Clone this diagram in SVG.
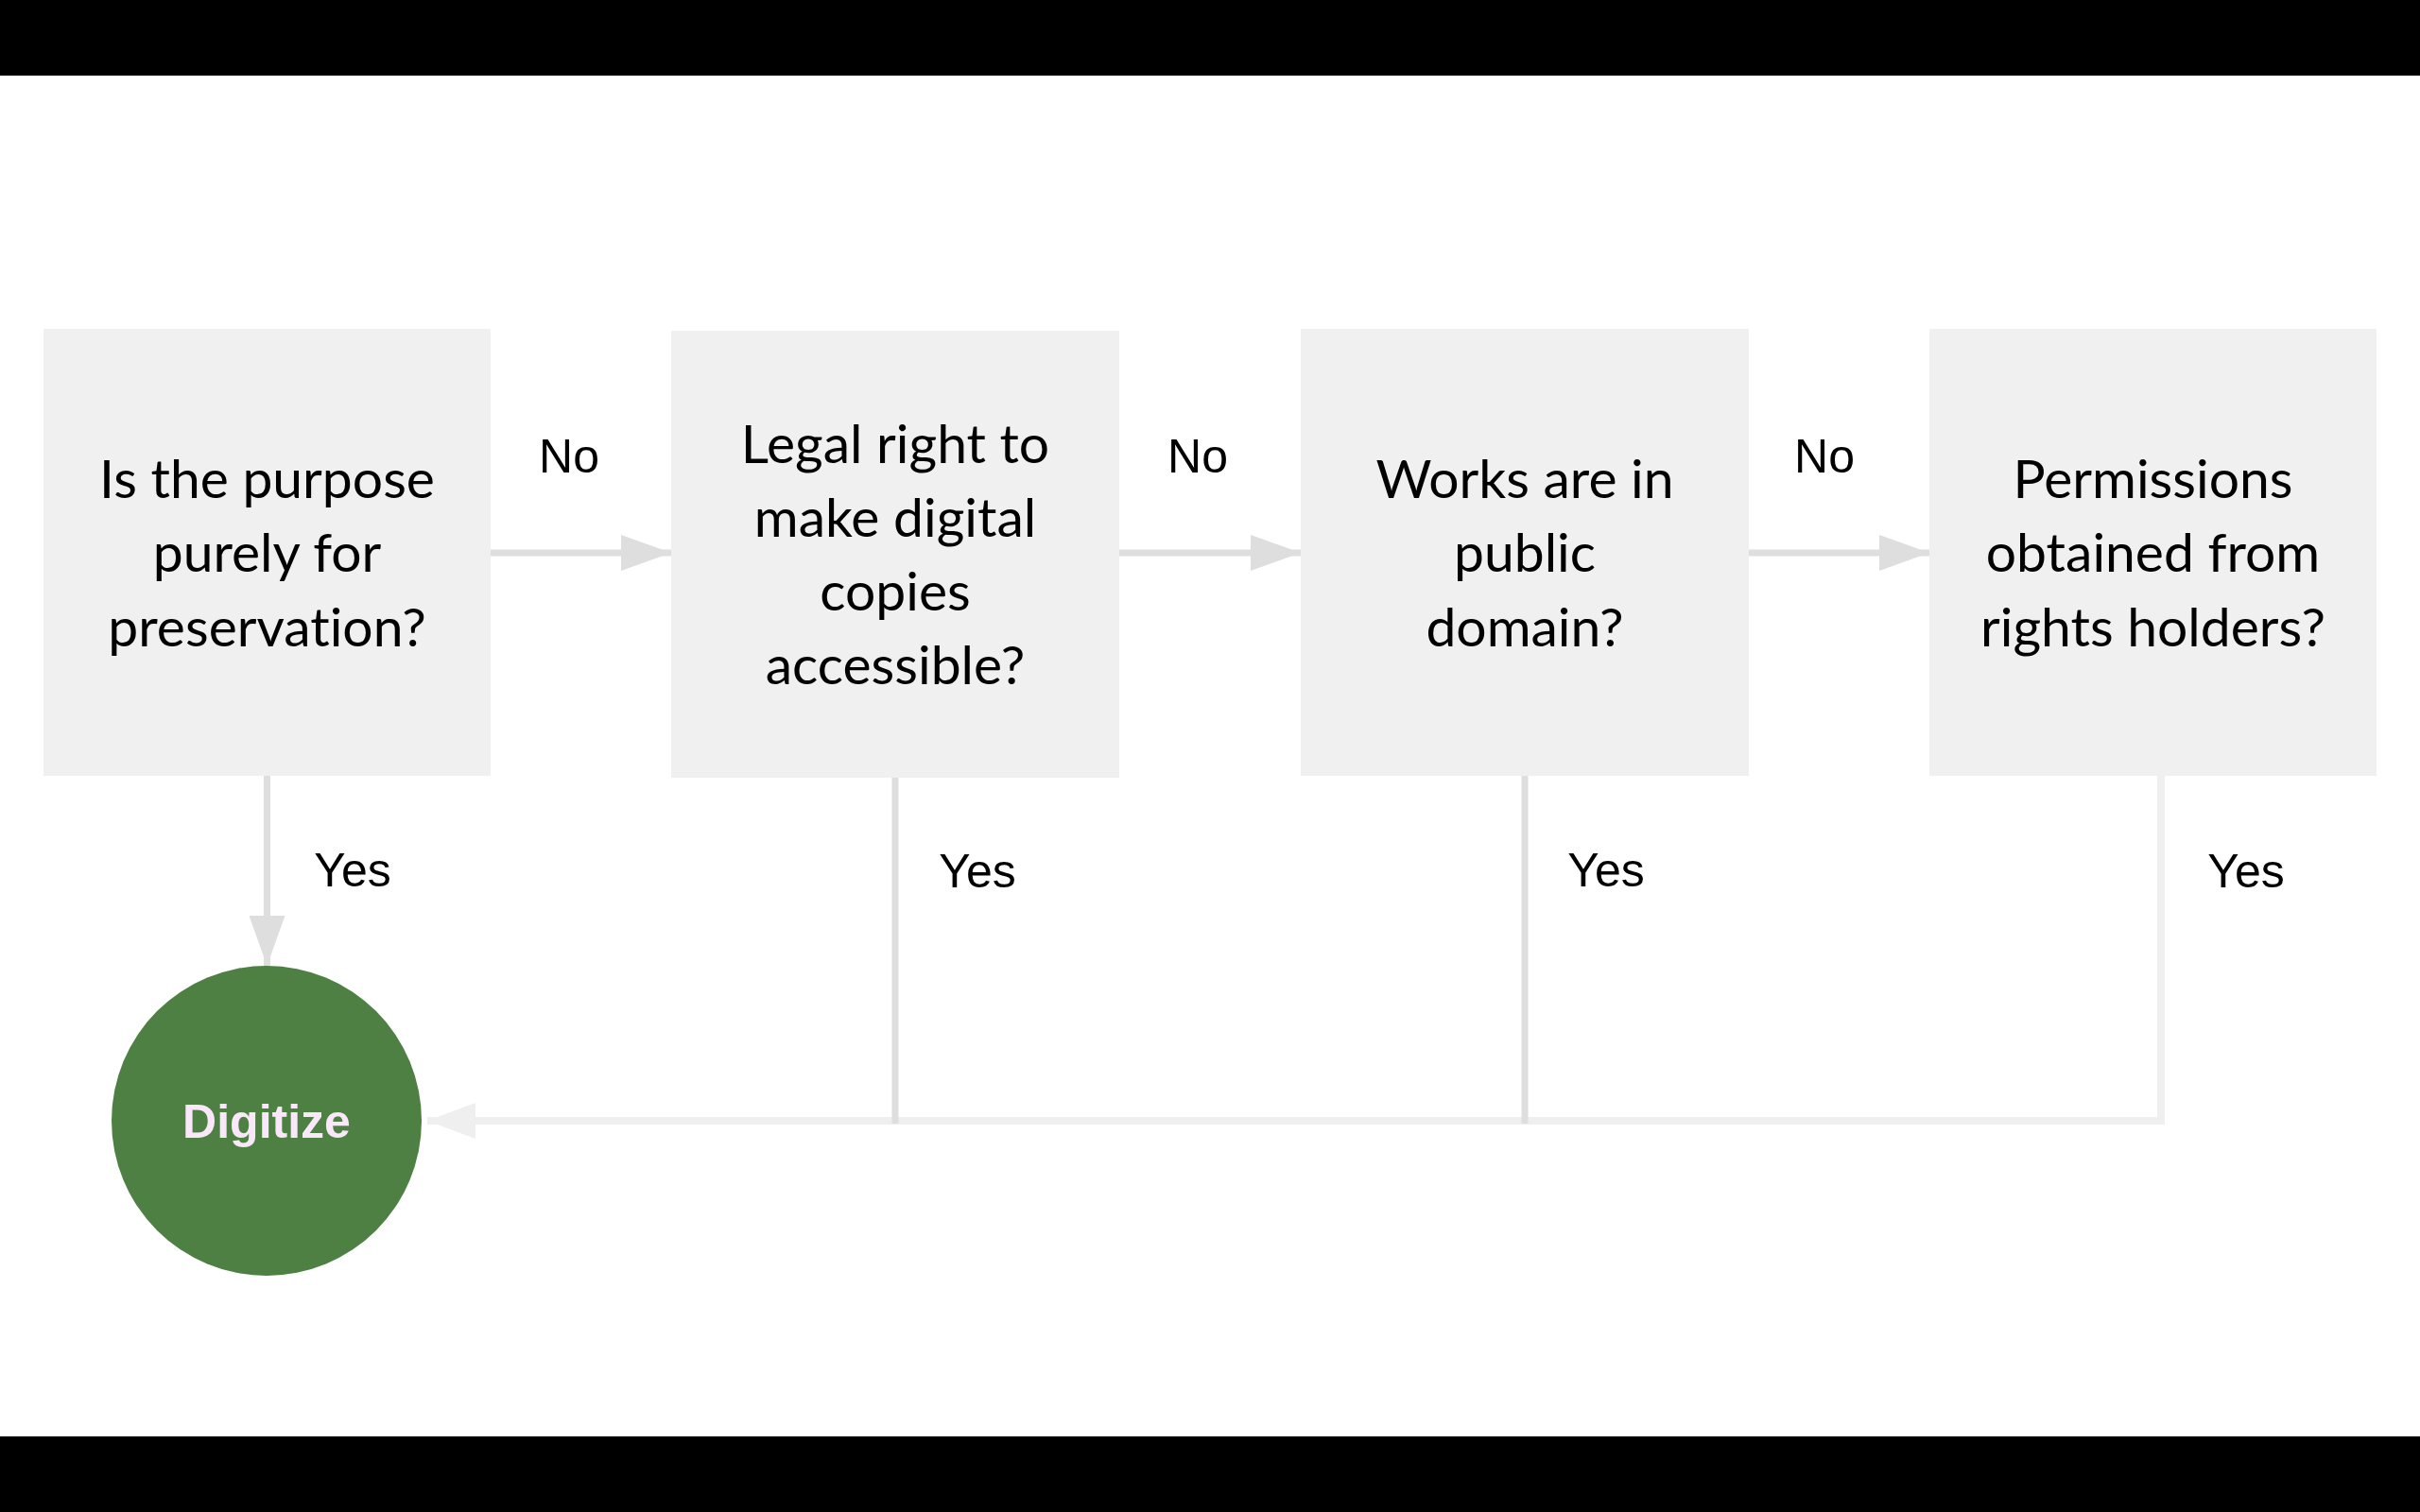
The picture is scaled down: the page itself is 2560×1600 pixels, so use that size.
<svg xmlns="http://www.w3.org/2000/svg" width="2560" height="1600" viewBox="0 0 2560 1600">
  <style>
    .box { fill: #f0f0f0; }
    .q { font-family: Lato, "Open Sans", "Liberation Sans", sans-serif; font-size: 57px; fill: #000; text-anchor: middle; font-variant-ligatures: none; font-feature-settings: "liga" 0; }
    .lbl { font-family: "Liberation Sans", Arial, sans-serif; font-size: 50px; fill: #000; text-anchor: middle; }
    .dk { stroke: #dedede; stroke-width: 7; fill: none; }
    .lt { stroke: #efefef; stroke-width: 8; fill: none; }
  </style>
  <defs>
    <marker id="ahD" markerUnits="userSpaceOnUse" markerWidth="54" markerHeight="38" refX="53" refY="19" orient="auto" viewBox="0 0 54 38">
      <path d="M0,0 L53,19 L0,38 Z" fill="#dedede"/>
    </marker>
    <marker id="ahL" markerUnits="userSpaceOnUse" markerWidth="54" markerHeight="38" refX="51" refY="19" orient="auto" viewBox="0 0 54 38">
      <path d="M0,0 L51,19 L0,38 Z" fill="#efefef"/>
    </marker>
  </defs>
  <rect x="0" y="0" width="2560" height="1600" fill="#ffffff"/>
  <rect x="0" y="0" width="2560" height="80" fill="#000000"/>
  <rect x="0" y="1520" width="2560" height="80" fill="#000000"/>

  <g id="connectors">
    <path class="lt" d="M2286,821 V1186 H452" stroke-linejoin="miter" marker-end="url(#ahL)"/>
    <line class="dk" x1="947" y1="823" x2="947" y2="1189"/>
    <line class="dk" x1="1613" y1="821" x2="1613" y2="1189"/>
    <line class="dk" x1="519" y1="585" x2="710" y2="585" marker-end="url(#ahD)"/>
    <line class="dk" x1="1184" y1="585" x2="1376" y2="585" marker-end="url(#ahD)"/>
    <line class="dk" x1="1850" y1="585" x2="2041" y2="585" marker-end="url(#ahD)"/>
    <line class="dk" x1="282.5" y1="821" x2="282.5" y2="1022" marker-end="url(#ahD)"/>
    <text class="lbl" x="602" y="500">No</text>
    <text class="lbl" x="1267" y="500">No</text>
    <text class="lbl" x="1930" y="500">No</text>
    <text class="lbl" x="373" y="938">Yes</text>
    <text class="lbl" x="1034" y="939">Yes</text>
    <text class="lbl" x="1699" y="938">Yes</text>
    <text class="lbl" x="2376" y="939">Yes</text>
  </g>

  <g id="node-preservation">
    <rect class="box" x="46" y="348" width="473" height="473"/>
    <text class="q" x="282.5" y="527">Is the purpose</text>
    <text class="q" x="282.5" y="605">purely for</text>
    <text class="q" x="282.5" y="684">preservation?</text>
  </g>
  <g id="node-legal-right">
    <rect class="box" x="710" y="350" width="474" height="473"/>
    <text class="q" x="947" y="490">Legal right to</text>
    <text class="q" x="947" y="568">make digital</text>
    <text class="q" x="947" y="646">copies</text>
    <text class="q" x="947" y="724">accessible?</text>
  </g>
  <g id="node-public-domain">
    <rect class="box" x="1376" y="348" width="474" height="473"/>
    <text class="q" x="1613" y="527">Works are in</text>
    <text class="q" x="1613" y="605">public</text>
    <text class="q" x="1613" y="684">domain?</text>
  </g>
  <g id="node-permissions">
    <rect class="box" x="2041" y="348" width="473" height="473"/>
    <text class="q" x="2277.5" y="527">Permissions</text>
    <text class="q" x="2277.5" y="605">obtained from</text>
    <text class="q" x="2277.5" y="684">rights holders?</text>
  </g>
  <g id="node-digitize">
    <circle cx="282" cy="1186" r="164" fill="#4e7f43"/>
    <text x="282" y="1204" font-family="'Liberation Sans', Arial, sans-serif" font-weight="bold" font-size="50" fill="#fae8fa" text-anchor="middle">Digitize</text>
  </g>
</svg>
